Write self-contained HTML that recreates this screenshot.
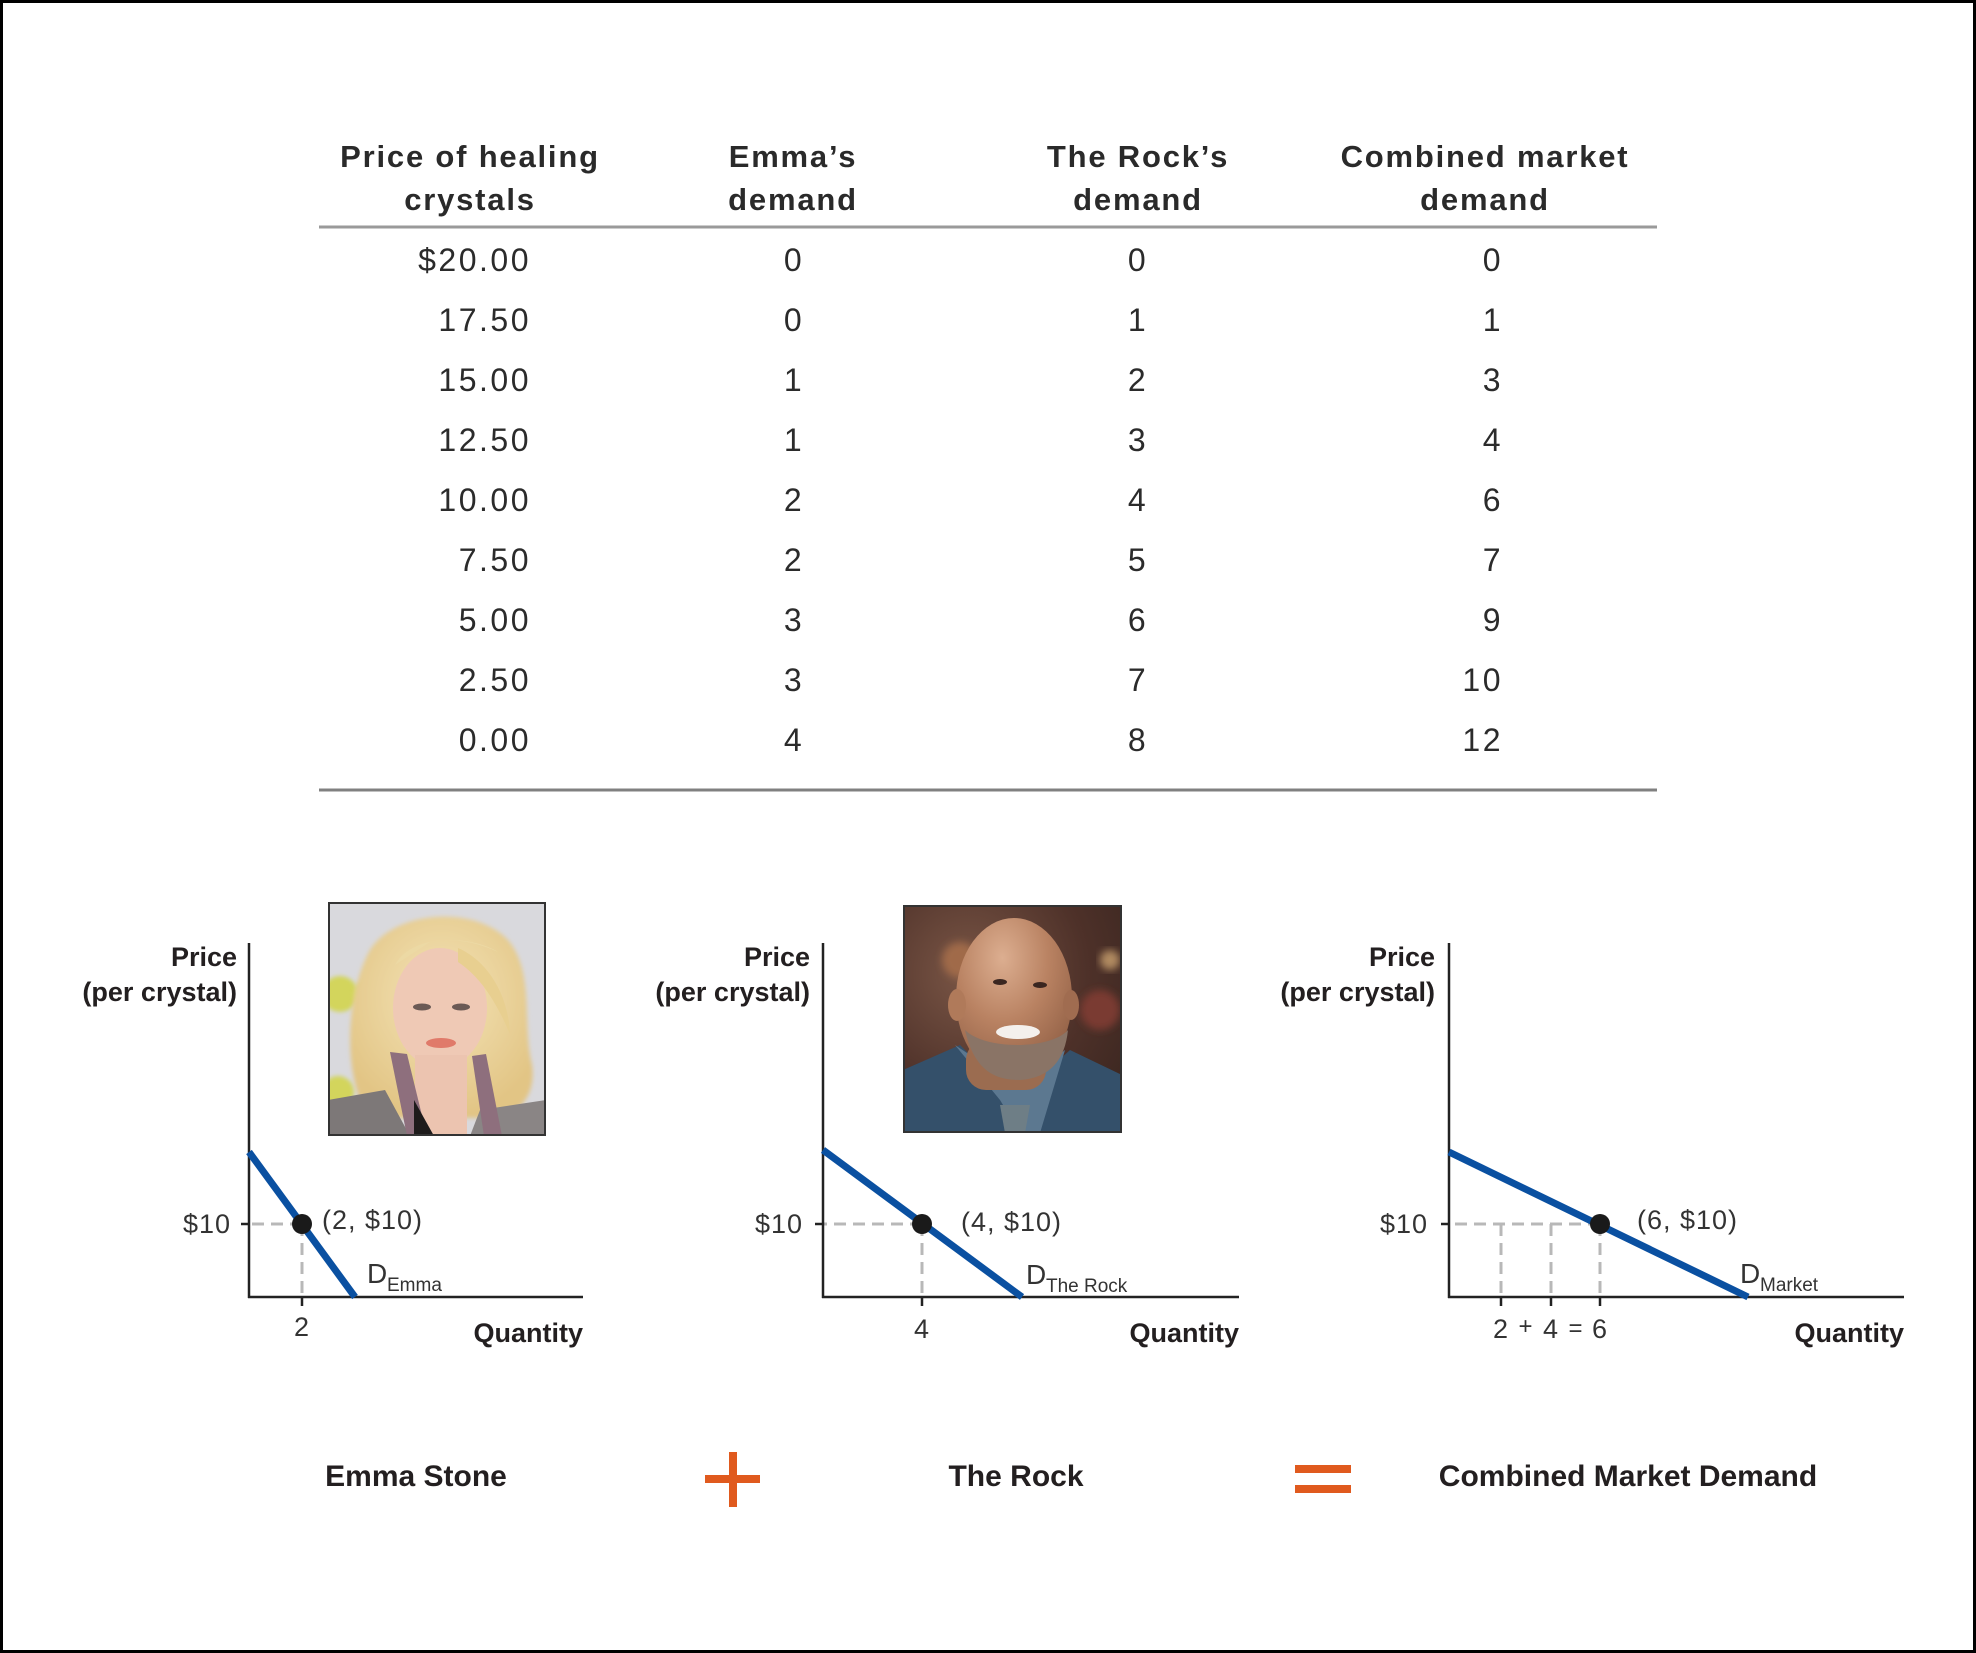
<!DOCTYPE html>
<html>
<head>
<meta charset="utf-8">
<style>
  html, body { margin:0; padding:0; background:#fff; }
  svg { display:block; }
  .hd { font-family:"Liberation Sans", Arial, sans-serif; font-size:31px; font-weight:bold; fill:#2a2a2a; letter-spacing:1.8px; }
  .bd { font-family:"Liberation Sans", Arial, sans-serif; font-size:32px; fill:#2b2b2b; letter-spacing:2.5px; }
  .ax { font-family:"Liberation Sans", Arial, sans-serif; font-size:27px; font-weight:bold; fill:#231f20; }
  .lb { font-family:"Liberation Sans", Arial, sans-serif; font-size:27px; fill:#333; letter-spacing:1px; }
  .dl { font-family:"Liberation Sans", Arial, sans-serif; font-size:28px; fill:#333; }
  .sb { font-family:"Liberation Sans", Arial, sans-serif; font-size:19px; fill:#333; }
  .cap { font-family:"Liberation Sans", Arial, sans-serif; font-size:30px; font-weight:bold; fill:#231f20; }
</style>
</head>
<body>
<svg width="1976" height="1653" viewBox="0 0 1976 1653" xmlns="http://www.w3.org/2000/svg">
  <defs>
    <filter id="blur4" x="-20%" y="-20%" width="140%" height="140%"><feGaussianBlur stdDeviation="4"/></filter>
    <filter id="blur2" x="-20%" y="-20%" width="140%" height="140%"><feGaussianBlur stdDeviation="2"/></filter>
    <clipPath id="cpE"><rect x="328" y="902" width="218" height="234"/></clipPath>
    <clipPath id="cpR"><rect x="903" y="905" width="219" height="228"/></clipPath>
    <radialGradient id="rockbg" cx="0.3" cy="0.3" r="0.9">
      <stop offset="0" stop-color="#7a5646"/>
      <stop offset="0.6" stop-color="#4e3129"/>
      <stop offset="1" stop-color="#3a2620"/>
    </radialGradient>
    <radialGradient id="rockhead" cx="0.4" cy="0.25" r="0.8">
      <stop offset="0" stop-color="#dcae90"/>
      <stop offset="0.5" stop-color="#b98262"/>
      <stop offset="1" stop-color="#8f5e44"/>
    </radialGradient>
    <radialGradient id="emmahair" cx="0.5" cy="0.4" r="0.6">
      <stop offset="0" stop-color="#f4e4b8"/>
      <stop offset="1" stop-color="#e2c585"/>
    </radialGradient>
  </defs>

  <rect x="1.5" y="1.5" width="1973" height="1650" fill="#fff" stroke="#000" stroke-width="3"/>

  <!-- TABLE HEADER -->
  <text class="hd" x="470" y="167" text-anchor="middle">Price of healing</text>
  <text class="hd" x="470" y="210" text-anchor="middle">crystals</text>
  <text class="hd" x="793" y="167" text-anchor="middle">Emma’s</text>
  <text class="hd" x="793" y="210" text-anchor="middle">demand</text>
  <text class="hd" x="1138" y="167" text-anchor="middle">The Rock’s</text>
  <text class="hd" x="1138" y="210" text-anchor="middle">demand</text>
  <text class="hd" x="1485" y="167" text-anchor="middle">Combined market</text>
  <text class="hd" x="1485" y="210" text-anchor="middle">demand</text>

  <line x1="319" y1="227" x2="1657" y2="227" stroke="#9a9a9a" stroke-width="3"/>

  <!-- TABLE BODY -->
  <g class="bd">
    <text x="531" y="271" text-anchor="end">$20.00</text>
    <text x="531" y="331" text-anchor="end">17.50</text>
    <text x="531" y="391" text-anchor="end">15.00</text>
    <text x="531" y="451" text-anchor="end">12.50</text>
    <text x="531" y="511" text-anchor="end">10.00</text>
    <text x="531" y="571" text-anchor="end">7.50</text>
    <text x="531" y="631" text-anchor="end">5.00</text>
    <text x="531" y="691" text-anchor="end">2.50</text>
    <text x="531" y="751" text-anchor="end">0.00</text>

    <text x="794" y="271" text-anchor="middle">0</text>
    <text x="794" y="331" text-anchor="middle">0</text>
    <text x="794" y="391" text-anchor="middle">1</text>
    <text x="794" y="451" text-anchor="middle">1</text>
    <text x="794" y="511" text-anchor="middle">2</text>
    <text x="794" y="571" text-anchor="middle">2</text>
    <text x="794" y="631" text-anchor="middle">3</text>
    <text x="794" y="691" text-anchor="middle">3</text>
    <text x="794" y="751" text-anchor="middle">4</text>

    <text x="1138" y="271" text-anchor="middle">0</text>
    <text x="1138" y="331" text-anchor="middle">1</text>
    <text x="1138" y="391" text-anchor="middle">2</text>
    <text x="1138" y="451" text-anchor="middle">3</text>
    <text x="1138" y="511" text-anchor="middle">4</text>
    <text x="1138" y="571" text-anchor="middle">5</text>
    <text x="1138" y="631" text-anchor="middle">6</text>
    <text x="1138" y="691" text-anchor="middle">7</text>
    <text x="1138" y="751" text-anchor="middle">8</text>

    <text x="1503" y="271" text-anchor="end">0</text>
    <text x="1503" y="331" text-anchor="end">1</text>
    <text x="1503" y="391" text-anchor="end">3</text>
    <text x="1503" y="451" text-anchor="end">4</text>
    <text x="1503" y="511" text-anchor="end">6</text>
    <text x="1503" y="571" text-anchor="end">7</text>
    <text x="1503" y="631" text-anchor="end">9</text>
    <text x="1503" y="691" text-anchor="end">10</text>
    <text x="1503" y="751" text-anchor="end">12</text>
  </g>

  <line x1="319" y1="790" x2="1657" y2="790" stroke="#808080" stroke-width="3"/>

  <!-- EMMA PHOTO -->
  <g clip-path="url(#cpE)">
    <rect x="328" y="902" width="218" height="234" fill="#d9d9dd"/>
    <circle cx="340" cy="994" r="18" fill="#d3d55c" filter="url(#blur2)"/>
    <circle cx="368" cy="994" r="14" fill="#d8d96a" filter="url(#blur2)"/>
    <circle cx="338" cy="1092" r="16" fill="#d3d55c" filter="url(#blur2)"/>
    <path d="M365 1112 C340 1060 350 985 370 950 C395 910 475 905 508 940 C535 972 522 1025 532 1065 C536 1095 520 1112 500 1118 L365 1118 Z" fill="url(#emmahair)" filter="url(#blur2)"/>
    <ellipse cx="440" cy="1008" rx="47" ry="60" fill="#efc9b5"/>
    <path d="M395 965 C410 938 455 932 498 952 C482 942 455 937 430 942 Z" fill="#ecd9a4"/>
    <path d="M458 948 C482 958 508 988 510 1034 C497 1004 482 978 458 962 Z" fill="#e8cf90"/>
    <rect x="415" y="1055" width="52" height="80" fill="#ecc4b0"/>
    <ellipse cx="422" cy="1007" rx="9" ry="3.5" fill="#6b5a55"/>
    <ellipse cx="461" cy="1007" rx="9" ry="3.5" fill="#6b5a55"/>
    <ellipse cx="441" cy="1043" rx="15" ry="5" fill="#e07a6a"/>
    <path d="M328 1100 L385 1090 L410 1136 L328 1136 Z" fill="#7d7878"/>
    <path d="M480 1110 L546 1100 L546 1136 L470 1136 Z" fill="#8a8585"/>
    <path d="M390 1052 L407 1054 L427 1136 L407 1136 Z" fill="#8e6f7d"/>
    <path d="M472 1056 L486 1054 L502 1136 L484 1136 Z" fill="#8e6f7d"/>
    <path d="M414 1100 L434 1136 L414 1136 Z" fill="#1e1b1b"/>
  </g>
  <rect x="329" y="903" width="216" height="232" fill="none" stroke="#333" stroke-width="2"/>

  <!-- ROCK PHOTO -->
  <g clip-path="url(#cpR)">
    <rect x="903" y="905" width="219" height="228" fill="url(#rockbg)"/>
    <circle cx="960" cy="960" r="18" fill="#a06a4a" filter="url(#blur4)"/>
    <circle cx="1100" cy="1010" r="20" fill="#7a3a30" filter="url(#blur4)"/>
    <circle cx="1110" cy="960" r="10" fill="#b08a60" filter="url(#blur4)"/>
    <path d="M903 1070 L960 1045 L1015 1100 L1070 1050 L1122 1075 L1122 1133 L903 1133 Z" fill="#34506a"/>
    <path d="M955 1045 L1000 1100 L1020 1133 L1040 1133 L1065 1050 L1040 1070 L1000 1075 Z" fill="#5c7890"/>
    <rect x="966" y="1040" width="80" height="50" rx="20" fill="#9b6c50"/>
    <ellipse cx="1014" cy="998" rx="58" ry="80" fill="url(#rockhead)"/>
    <ellipse cx="957" cy="1005" rx="9" ry="16" fill="#b07a5a"/>
    <ellipse cx="1071" cy="1005" rx="8" ry="15" fill="#a06c50"/>
    <path d="M965 1030 C975 1075 1000 1080 1020 1080 C1050 1078 1065 1060 1068 1030 C1050 1050 985 1050 965 1030 Z" fill="#8a7466"/>
    <ellipse cx="1018" cy="1032" rx="22" ry="7" fill="#f4f0ec"/>
    <ellipse cx="1000" cy="982" rx="7" ry="3" fill="#3a2620"/>
    <ellipse cx="1040" cy="985" rx="7" ry="3" fill="#3a2620"/>
    <path d="M1000 1105 L1030 1105 L1025 1133 L1005 1133 Z" fill="#6e7e86"/>
  </g>
  <rect x="904" y="906" width="217" height="226" fill="none" stroke="#333" stroke-width="2"/>

  <!-- GRAPH 1: EMMA -->
  <g>
    <text class="ax" x="237" y="966" text-anchor="end">Price</text>
    <text class="ax" x="237" y="1001" text-anchor="end">(per crystal)</text>
    <line x1="302" y1="1224" x2="250" y2="1224" stroke="#b8b8b8" stroke-width="3" stroke-dasharray="12 7"/>
    <line x1="302" y1="1224" x2="302" y2="1296" stroke="#b8b8b8" stroke-width="3" stroke-dasharray="12 7"/>
    <line x1="249" y1="943" x2="249" y2="1298" stroke="#222" stroke-width="2.5"/>
    <line x1="248" y1="1297" x2="583" y2="1297" stroke="#222" stroke-width="2.5"/>
    <line x1="241" y1="1224" x2="249" y2="1224" stroke="#222" stroke-width="2.5"/>
    <line x1="302" y1="1297" x2="302" y2="1306" stroke="#222" stroke-width="2.5"/>
    <line x1="249" y1="1152" x2="355" y2="1297" stroke="#0a50a1" stroke-width="7"/>
    <circle cx="302" cy="1224" r="10" fill="#1a1a1a"/>
    <text class="lb" x="231" y="1233" text-anchor="end">$10</text>
    <text class="lb" x="322" y="1229">(2, $10)</text>
    <text class="dl" x="367" y="1283">D</text>
    <text class="sb" x="387" y="1291">Emma</text>
    <text class="lb" x="302" y="1336" text-anchor="middle">2</text>
    <text class="ax" x="583" y="1342" text-anchor="end">Quantity</text>
  </g>

  <!-- GRAPH 2: ROCK -->
  <g>
    <text class="ax" x="810" y="966" text-anchor="end">Price</text>
    <text class="ax" x="810" y="1001" text-anchor="end">(per crystal)</text>
    <line x1="922" y1="1224" x2="824" y2="1224" stroke="#b8b8b8" stroke-width="3" stroke-dasharray="12 7"/>
    <line x1="922" y1="1224" x2="922" y2="1296" stroke="#b8b8b8" stroke-width="3" stroke-dasharray="12 7"/>
    <line x1="823" y1="943" x2="823" y2="1298" stroke="#222" stroke-width="2.5"/>
    <line x1="822" y1="1297" x2="1239" y2="1297" stroke="#222" stroke-width="2.5"/>
    <line x1="815" y1="1224" x2="823" y2="1224" stroke="#222" stroke-width="2.5"/>
    <line x1="922" y1="1297" x2="922" y2="1306" stroke="#222" stroke-width="2.5"/>
    <line x1="823" y1="1150" x2="1022" y2="1297" stroke="#0a50a1" stroke-width="7"/>
    <circle cx="922" cy="1224" r="10" fill="#1a1a1a"/>
    <text class="lb" x="803" y="1233" text-anchor="end">$10</text>
    <text class="lb" x="961" y="1231">(4, $10)</text>
    <text class="dl" x="1026" y="1284">D</text>
    <text class="sb" x="1046" y="1292">The Rock</text>
    <text class="lb" x="922" y="1338" text-anchor="middle">4</text>
    <text class="ax" x="1239" y="1342" text-anchor="end">Quantity</text>
  </g>

  <!-- GRAPH 3: MARKET -->
  <g>
    <text class="ax" x="1435" y="966" text-anchor="end">Price</text>
    <text class="ax" x="1435" y="1001" text-anchor="end">(per crystal)</text>
    <line x1="1600" y1="1224" x2="1450" y2="1224" stroke="#b8b8b8" stroke-width="3" stroke-dasharray="12 7"/>
    <line x1="1501" y1="1224" x2="1501" y2="1296" stroke="#b8b8b8" stroke-width="3" stroke-dasharray="12 7"/>
    <line x1="1551" y1="1224" x2="1551" y2="1296" stroke="#b8b8b8" stroke-width="3" stroke-dasharray="12 7"/>
    <line x1="1600" y1="1224" x2="1600" y2="1296" stroke="#b8b8b8" stroke-width="3" stroke-dasharray="12 7"/>
    <line x1="1449" y1="943" x2="1449" y2="1298" stroke="#222" stroke-width="2.5"/>
    <line x1="1448" y1="1297" x2="1904" y2="1297" stroke="#222" stroke-width="2.5"/>
    <line x1="1441" y1="1224" x2="1449" y2="1224" stroke="#222" stroke-width="2.5"/>
    <line x1="1501" y1="1297" x2="1501" y2="1306" stroke="#222" stroke-width="2.5"/>
    <line x1="1551" y1="1297" x2="1551" y2="1306" stroke="#222" stroke-width="2.5"/>
    <line x1="1600" y1="1297" x2="1600" y2="1306" stroke="#222" stroke-width="2.5"/>
    <line x1="1449" y1="1152" x2="1748" y2="1297" stroke="#0a50a1" stroke-width="7"/>
    <circle cx="1600" cy="1224" r="10" fill="#1a1a1a"/>
    <text class="lb" x="1428" y="1233" text-anchor="end">$10</text>
    <text class="lb" x="1637" y="1229">(6, $10)</text>
    <text class="dl" x="1740" y="1283">D</text>
    <text class="sb" x="1760" y="1291">Market</text>
    <text class="lb" x="1501" y="1338" text-anchor="middle">2</text>
    <text class="lb" x="1526" y="1334" text-anchor="middle" style="font-size:24px">+</text>
    <text class="lb" x="1551" y="1338" text-anchor="middle">4</text>
    <text class="lb" x="1576" y="1336" text-anchor="middle" style="font-size:24px">=</text>
    <text class="lb" x="1600" y="1338" text-anchor="middle">6</text>
    <text class="ax" x="1904" y="1342" text-anchor="end">Quantity</text>
  </g>

  <!-- BOTTOM CAPTIONS -->
  <text class="cap" x="416" y="1486" text-anchor="middle">Emma Stone</text>
  <rect x="705" y="1475" width="55" height="8" fill="#e05a1e"/>
  <rect x="729" y="1452" width="8" height="55" fill="#e05a1e"/>
  <text class="cap" x="1016" y="1486" text-anchor="middle">The Rock</text>
  <rect x="1295" y="1465" width="56" height="8" fill="#e05a1e"/>
  <rect x="1295" y="1485" width="56" height="8" fill="#e05a1e"/>
  <text class="cap" x="1628" y="1486" text-anchor="middle">Combined Market Demand</text>
</svg>
</body>
</html>
